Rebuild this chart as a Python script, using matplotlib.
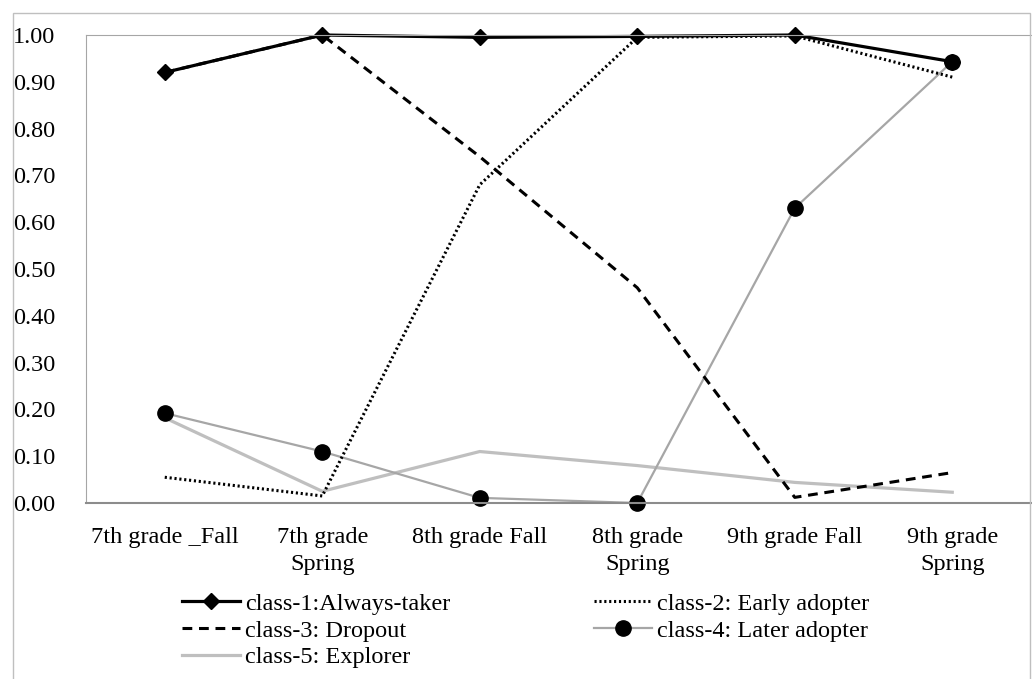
import matplotlib.pyplot as plt
from matplotlib.patches import Rectangle

plt.rcParams['font.family'] = ['Liberation Serif', 'DejaVu Serif']

categories = ["7th grade _Fall", "7th grade\nSpring", "8th grade Fall",
              "8th grade\nSpring", "9th grade Fall", "9th grade\nSpring"]

always_taker = [0.92, 1.00, 0.995, 0.997, 1.00, 0.943]
early_adopter = [0.055, 0.015, 0.68, 0.995, 0.998, 0.91]
dropout = [0.92, 1.00, 0.74, 0.46, 0.012, 0.065]
later_adopter = [0.192, 0.11, 0.011, 0.0, 0.63, 0.943]
explorer = [0.182, 0.025, 0.11, 0.08, 0.044, 0.023]

fig = plt.figure(figsize=(10.32, 6.79), dpi=100)
ax = fig.add_axes([86 / 1032, 176 / 679, 945 / 1032, 468 / 679])

x = range(len(categories))

l5, = ax.plot(x, explorer, color='#bfbfbf', lw=2.3, label='class-5: Explorer')
l4, = ax.plot(x, later_adopter, color='#a6a6a6', lw=1.6, marker='o',
              markersize=11, markerfacecolor='black', markeredgecolor='black',
              label='class-4: Later adopter')
l3, = ax.plot(x, dropout, color='black', lw=2.2, linestyle=(0, (3.2, 2.2)),
              label='class-3: Dropout')
l2, = ax.plot(x, early_adopter, color='black', lw=2.2, linestyle=(0, (0.7, 0.9)),
              dash_capstyle='butt', label='class-2: Early adopter')
l1, = ax.plot(x, always_taker, color='black', lw=2.3, marker='D',
              markersize=8.5, label='class-1:Always-taker')

ax.set_xlim(-0.5, len(categories) - 0.5)
ax.set_ylim(0, 1.0)
ax.set_yticks([i / 10 for i in range(11)])
ax.set_yticklabels([f"{i / 10:.2f}" for i in range(11)])
ax.set_xticks(list(x))
ax.set_xticklabels(categories, linespacing=1.4)
ax.tick_params(axis='both', length=0, labelsize=17.5)
ax.tick_params(axis='y', pad=22)
ax.tick_params(axis='x', pad=17)

ax.spines['right'].set_visible(False)
ax.spines['left'].set_color('#a6a6a6')
ax.spines['top'].set_color('#a6a6a6')
ax.spines['bottom'].set_color('#8c8c8c')
ax.spines['bottom'].set_linewidth(1.5)
for ln in ax.lines:
    ln.set_clip_on(False)

handles = [l1, l3, l5, l2, l4]
fig.legend(handles=handles, labels=[h.get_label() for h in handles], ncol=2,
           loc='upper left', bbox_to_anchor=(172 / 1032, 1 - 583 / 679),
           frameon=False, fontsize=17.5, handlelength=2.4, handletextpad=0.2,
           columnspacing=5.9, labelspacing=0.2, borderaxespad=0)

fig.patches.append(Rectangle((13 / 1032, -0.01), 1017 / 1032, 1 - 13 / 679 + 0.01,
                             transform=fig.transFigure, fill=False,
                             edgecolor='#bfbfbf', lw=1.0))

fig.savefig('out.png', dpi=100)
